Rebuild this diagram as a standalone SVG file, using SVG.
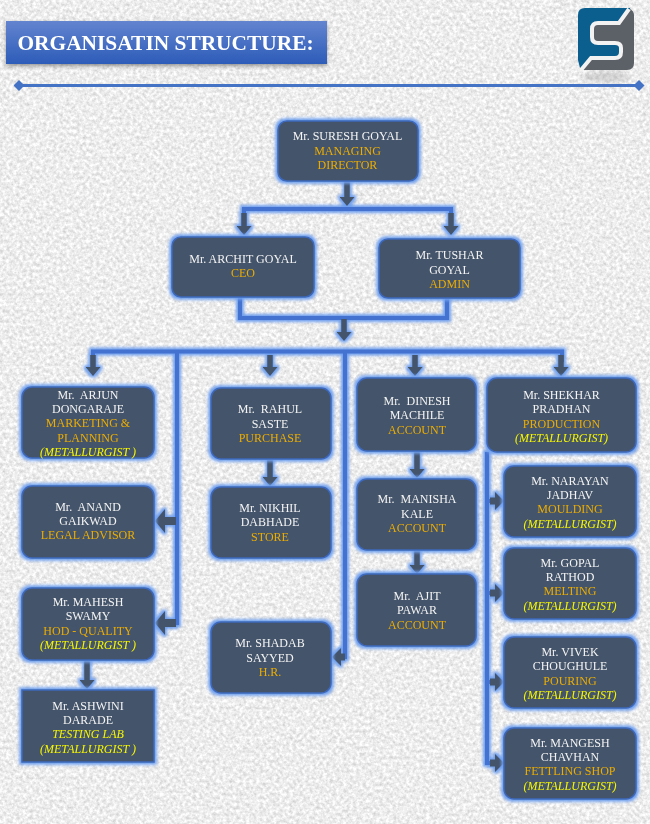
<svg xmlns="http://www.w3.org/2000/svg" width="650" height="824" viewBox="0 0 650 824">
<style>
text{font-family:"Liberation Serif","Times New Roman",serif;text-anchor:middle;font-size:12px;white-space:pre;filter:url(#soft)}
.n{fill:#f4f4f4}.o{fill:#ecad00}.y{fill:#f6f600;font-style:italic}
.box{fill:#44546a;stroke:#3d68bb;stroke-width:1.5}
.node{filter:url(#glow)}
.bar{stroke:#4472d0;stroke-width:4;fill:none;stroke-linejoin:miter}
.ar{stroke:#44546a;stroke-width:5.500;fill:none;marker-end:url(#head)}
.fat{stroke-width:8;marker-end:url(#headL)}
.mid{stroke-width:7;marker-end:url(#headM)}
</style>
<defs>
<filter id="paper" filterUnits="userSpaceOnUse" x="0" y="0" width="650" height="824" color-interpolation-filters="sRGB">
<feTurbulence type="fractalNoise" baseFrequency="0.3" numOctaves="3" seed="7"/>
<feColorMatrix type="matrix" values="0.3 0 0 0 0.78 0.3 0 0 0 0.78 0.3 0 0 0 0.78 0 0 0 0 1"/>
<feGaussianBlur stdDeviation="0.6"/>
</filter>
<filter id="glow" filterUnits="userSpaceOnUse" x="0" y="0" width="650" height="824" color-interpolation-filters="sRGB">
<feFlood flood-color="#6f9fee" result="c"/>
<feMorphology in="SourceAlpha" operator="dilate" radius="1.500" result="d"/>
<feGaussianBlur in="d" stdDeviation="1.800" result="b"/>
<feComposite in="c" in2="b" operator="in" result="h"/>
<feMerge><feMergeNode in="h"/><feMergeNode in="SourceGraphic"/></feMerge>
</filter>
<filter id="soft" x="-5%" y="-20%" width="110%" height="140%"><feGaussianBlur stdDeviation="0.3"/></filter>
<filter id="shadow" x="-5%" y="-20%" width="110%" height="150%"><feDropShadow dx="0" dy="2" stdDeviation="2" flood-color="#555" flood-opacity="0.6"/></filter>
<filter id="blur2" x="-20%" y="-50%" width="140%" height="200%"><feGaussianBlur stdDeviation="2"/></filter>
<linearGradient id="tg" x1="0" y1="0" x2="0" y2="1"><stop offset="0" stop-color="#6384cf"/><stop offset="1" stop-color="#2d5cb9"/></linearGradient>
<marker id="head" viewBox="0 0 9 15" markerWidth="9" markerHeight="15" refX="0" refY="7.500" orient="auto" markerUnits="userSpaceOnUse"><polygon points="0,0 9,7.500 0,15" fill="#44546a"/></marker>
<marker id="headL" viewBox="0 0 10 24" markerWidth="10" markerHeight="24" refX="0" refY="12" orient="auto" markerUnits="userSpaceOnUse"><polygon points="0,0 10,12 0,24" fill="#44546a"/></marker>
<marker id="headM" viewBox="0 0 9 18" markerWidth="9" markerHeight="18" refX="0" refY="9" orient="auto" markerUnits="userSpaceOnUse"><polygon points="0,0 9,9 0,18" fill="#44546a"/></marker>
<marker id="dm" viewBox="0 0 10 10" markerWidth="11" markerHeight="11" refX="5" refY="5" markerUnits="userSpaceOnUse"><polygon points="5,0 10,5 5,10 0,5" fill="#4472c4"/></marker>
</defs>
<rect width="650" height="824" fill="#fff"/>
<rect x="6" y="0" width="644" height="824" filter="url(#paper)"/>
<g id="title">
<rect x="6" y="21" width="321" height="43" fill="url(#tg)" filter="url(#shadow)"/>
<text x="165.500" y="50" style="font-size:21.400px;font-weight:bold;fill:#fff">ORGANISATIN STRUCTURE:</text>
</g>
<line id="rule" x1="19" y1="85.500" x2="639" y2="85.500" stroke="#4472c4" stroke-width="3" marker-start="url(#dm)" marker-end="url(#dm)"/>
<g id="logo">
<ellipse cx="606" cy="77" rx="24" ry="5" fill="#999" opacity="0.35" filter="url(#blur2)"/>
<path d="M585 8H630V58L580 68L578 60V15Q578 8 585 8Z" fill="#0b5f8f"/>
<path d="M630 9L619 23H598Q592 23 592 29V37Q592 43 598 43H615Q621 43 621 48V52Q621 58 615 58H591L581 70H627Q634 70 634 63V15Q634 11 630 9Z" fill="#5c6067"/>
<path d="M629 9L619 23H598Q592 23 592 29V37Q592 43 598 43H615Q621 43 621 48V52Q621 58 615 58H591L581 70" fill="none" stroke="#f2f2f2" stroke-width="4"/>
</g>
<g id="connectors" filter="url(#glow)">
<path class="bar" d="M244 222V209H451V222"/>
<path class="bar" d="M240 297V318H447V298"/>
<path class="bar" d="M93 362V351.500H562V362"/>
<path class="bar" d="M177 351.500V623H168"/>
<path class="bar" d="M177 521H168"/>
<path class="bar" d="M345 351.500V657H340"/>
<path class="bar" d="M487 452V763H495"/>
<path class="bar" d="M487 501H495M487 593H495M487 682H495"/>
<path class="ar" d="M347 181V197"/>
<path class="ar" d="M244 213V226"/>
<path class="ar" d="M451 213V226"/>
<path class="ar" d="M344 319V332"/>
<path class="ar" d="M93 355V367"/>
<path class="ar" d="M270 355V367"/>
<path class="ar" d="M415 355V367"/>
<path class="ar" d="M561 355V367"/>
<path class="ar" d="M270 460V477"/>
<path class="ar" d="M417 452V469"/>
<path class="ar" d="M417 551V565"/>
<path class="ar" d="M87 661V680"/>
<path class="ar fat" d="M176 521H165"/>
<path class="ar fat" d="M176 623H165"/>
<path class="ar mid" d="M345 657H341"/>
<path class="ar mid" d="M490 501H495"/>
<path class="ar mid" d="M490 593H495"/>
<path class="ar mid" d="M490 682H495"/>
<path class="ar mid" d="M490 763H495"/>
</g>
<g id="md" class="node"><rect class="box" x="278" y="121" width="140" height="60" rx="9"/><text class="n" x="347.500" y="140">Mr. SURESH GOYAL</text><text class="o" x="347.500" y="154.500">MANAGING</text><text class="o" x="347.500" y="169">DIRECTOR</text></g>
<g id="ceo" class="node"><rect class="box" x="172" y="237" width="142" height="60" rx="9"/><text class="n" x="243" y="263">Mr. ARCHIT GOYAL</text><text class="o" x="243" y="277">CEO</text></g>
<g id="admin" class="node"><rect class="box" x="379" y="239" width="141" height="59" rx="9"/><text class="n" x="449.500" y="259">Mr. TUSHAR</text><text class="n" x="449.500" y="273.500">GOYAL</text><text class="o" x="449.500" y="288">ADMIN</text></g>
<g id="arjun" class="node"><rect class="box" x="22" y="387" width="132" height="71" rx="10"/><text class="n" x="88" y="399">Mr.  ARJUN</text><text class="n" x="88" y="413">DONGARAJE</text><text class="o" x="88" y="427">MARKETING &amp;</text><text class="o" x="88" y="442">PLANNING</text><text class="y" x="88" y="456">(METALLURGIST )</text></g>
<g id="anand" class="node"><rect class="box" x="22" y="486" width="132" height="72" rx="10"/><text class="n" x="88" y="510.500">Mr.  ANAND</text><text class="n" x="88" y="525">GAIKWAD</text><text class="o" x="88" y="539">LEGAL ADVISOR</text></g>
<g id="mahesh" class="node"><rect class="box" x="22" y="588" width="132" height="72" rx="10"/><text class="n" x="88" y="605.500">Mr. MAHESH</text><text class="n" x="88" y="620">SWAMY</text><text class="o" x="88" y="634.500">HOD - QUALITY</text><text class="y" x="88" y="649">(METALLURGIST )</text></g>
<g id="ashwini" class="node"><rect class="box" x="22" y="690" width="132" height="72"/><text class="n" x="88" y="709.500">Mr. ASHWINI</text><text class="n" x="88" y="724">DARADE</text><text class="y" x="88" y="738">TESTING LAB</text><text class="y" x="88" y="752.500">(METALLURGIST )</text></g>
<g id="rahul" class="node"><rect class="box" x="211" y="388" width="120" height="71" rx="10"/><text class="n" x="270" y="413">Mr.  RAHUL</text><text class="n" x="270" y="427.500">SASTE</text><text class="o" x="270" y="442">PURCHASE</text></g>
<g id="nikhil" class="node"><rect class="box" x="211" y="487" width="120" height="71" rx="10"/><text class="n" x="270" y="512">Mr. NIKHIL</text><text class="n" x="270" y="526">DABHADE</text><text class="o" x="270" y="540.500">STORE</text></g>
<g id="shadab" class="node"><rect class="box" x="211" y="622" width="120" height="71" rx="10"/><text class="n" x="270" y="647">Mr. SHADAB</text><text class="n" x="270" y="661.500">SAYYED</text><text class="o" x="270" y="676">H.R.</text></g>
<g id="dinesh" class="node"><rect class="box" x="357" y="378" width="119" height="73" rx="10"/><text class="n" x="417" y="404.500">Mr.  DINESH</text><text class="n" x="417" y="419">MACHILE</text><text class="o" x="417" y="433.500">ACCOUNT</text></g>
<g id="manisha" class="node"><rect class="box" x="357" y="479" width="119" height="71" rx="10"/><text class="n" x="417" y="503">Mr.  MANISHA</text><text class="n" x="417" y="517.500">KALE</text><text class="o" x="417" y="532">ACCOUNT</text></g>
<g id="ajit" class="node"><rect class="box" x="357" y="574" width="119" height="72" rx="10"/><text class="n" x="417" y="599.500">Mr.  AJIT</text><text class="n" x="417" y="614">PAWAR</text><text class="o" x="417" y="628.500">ACCOUNT</text></g>
<g id="shekhar" class="node"><rect class="box" x="487" y="378" width="149" height="74" rx="10"/><text class="n" x="561.500" y="399">Mr. SHEKHAR</text><text class="n" x="561.500" y="413">PRADHAN</text><text class="o" x="561.500" y="427.500">PRODUCTION</text><text class="y" x="561.500" y="442">(METALLURGIST)</text></g>
<g id="narayan" class="node"><rect class="box" x="504" y="466" width="132" height="71" rx="10"/><text class="n" x="570" y="484.500">Mr. NARAYAN</text><text class="n" x="570" y="499">JADHAV</text><text class="o" x="570" y="513">MOULDING</text><text class="y" x="570" y="527.500">(METALLURGIST)</text></g>
<g id="gopal" class="node"><rect class="box" x="504" y="548" width="132" height="71" rx="10"/><text class="n" x="570" y="566.500">Mr. GOPAL</text><text class="n" x="570" y="581">RATHOD</text><text class="o" x="570" y="595">MELTING</text><text class="y" x="570" y="609.500">(METALLURGIST)</text></g>
<g id="vivek" class="node"><rect class="box" x="504" y="637" width="132" height="71" rx="10"/><text class="n" x="570" y="656">Mr. VIVEK</text><text class="n" x="570" y="670">CHOUGHULE</text><text class="o" x="570" y="684.500">POURING</text><text class="y" x="570" y="699">(METALLURGIST)</text></g>
<g id="mangesh" class="node"><rect class="box" x="504" y="728" width="132" height="71" rx="10"/><text class="n" x="570" y="746.500">Mr. MANGESH</text><text class="n" x="570" y="761">CHAVHAN</text><text class="o" x="570" y="775">FETTLING SHOP</text><text class="y" x="570" y="789.500">(METALLURGIST)</text></g>
</svg>
